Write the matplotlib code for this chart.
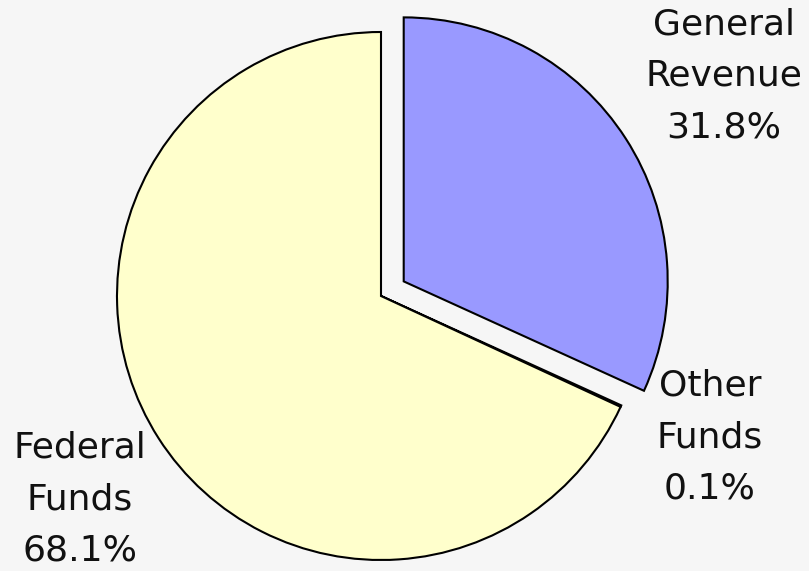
import matplotlib.pyplot as plt

plt.rcParams['font.family'] = ['DejaVu Sans']

# 数据
labels = ['General\nRevenue', 'Other\nFunds', 'Federal\nFunds']
shares = [31.8, 0.1, 68.1]
colors = ['#9999ff', '#ccffcc', '#ffffcc']
explode = [27, 0, 0]  # 像素单位（数据坐标即像素）

fig = plt.figure(figsize=(8.09, 5.71), dpi=100)
fig.patch.set_facecolor('#f6f6f6')
ax = fig.add_axes([0, 0, 1, 1])

ax.pie(shares, colors=colors, explode=explode, startangle=90, counterclock=False,
       center=(381, 275), radius=264, frame=True,
       wedgeprops=dict(edgecolor='black', linewidth=1.5))
ax.set_xlim(0, 809)
ax.set_ylim(0, 571)
ax.axis('off')

# 标签
label_pos = [(724, 495), (710, 134), (80, 72)]
for lab, v, (x, y) in zip(labels, shares, label_pos):
    ax.text(x, y, f"{lab}\n{v:.1f}%", ha='center', va='center',
            fontsize=26, linespacing=1.65, color='#111111')

plt.savefig('out.png', dpi=100, facecolor=fig.get_facecolor())
